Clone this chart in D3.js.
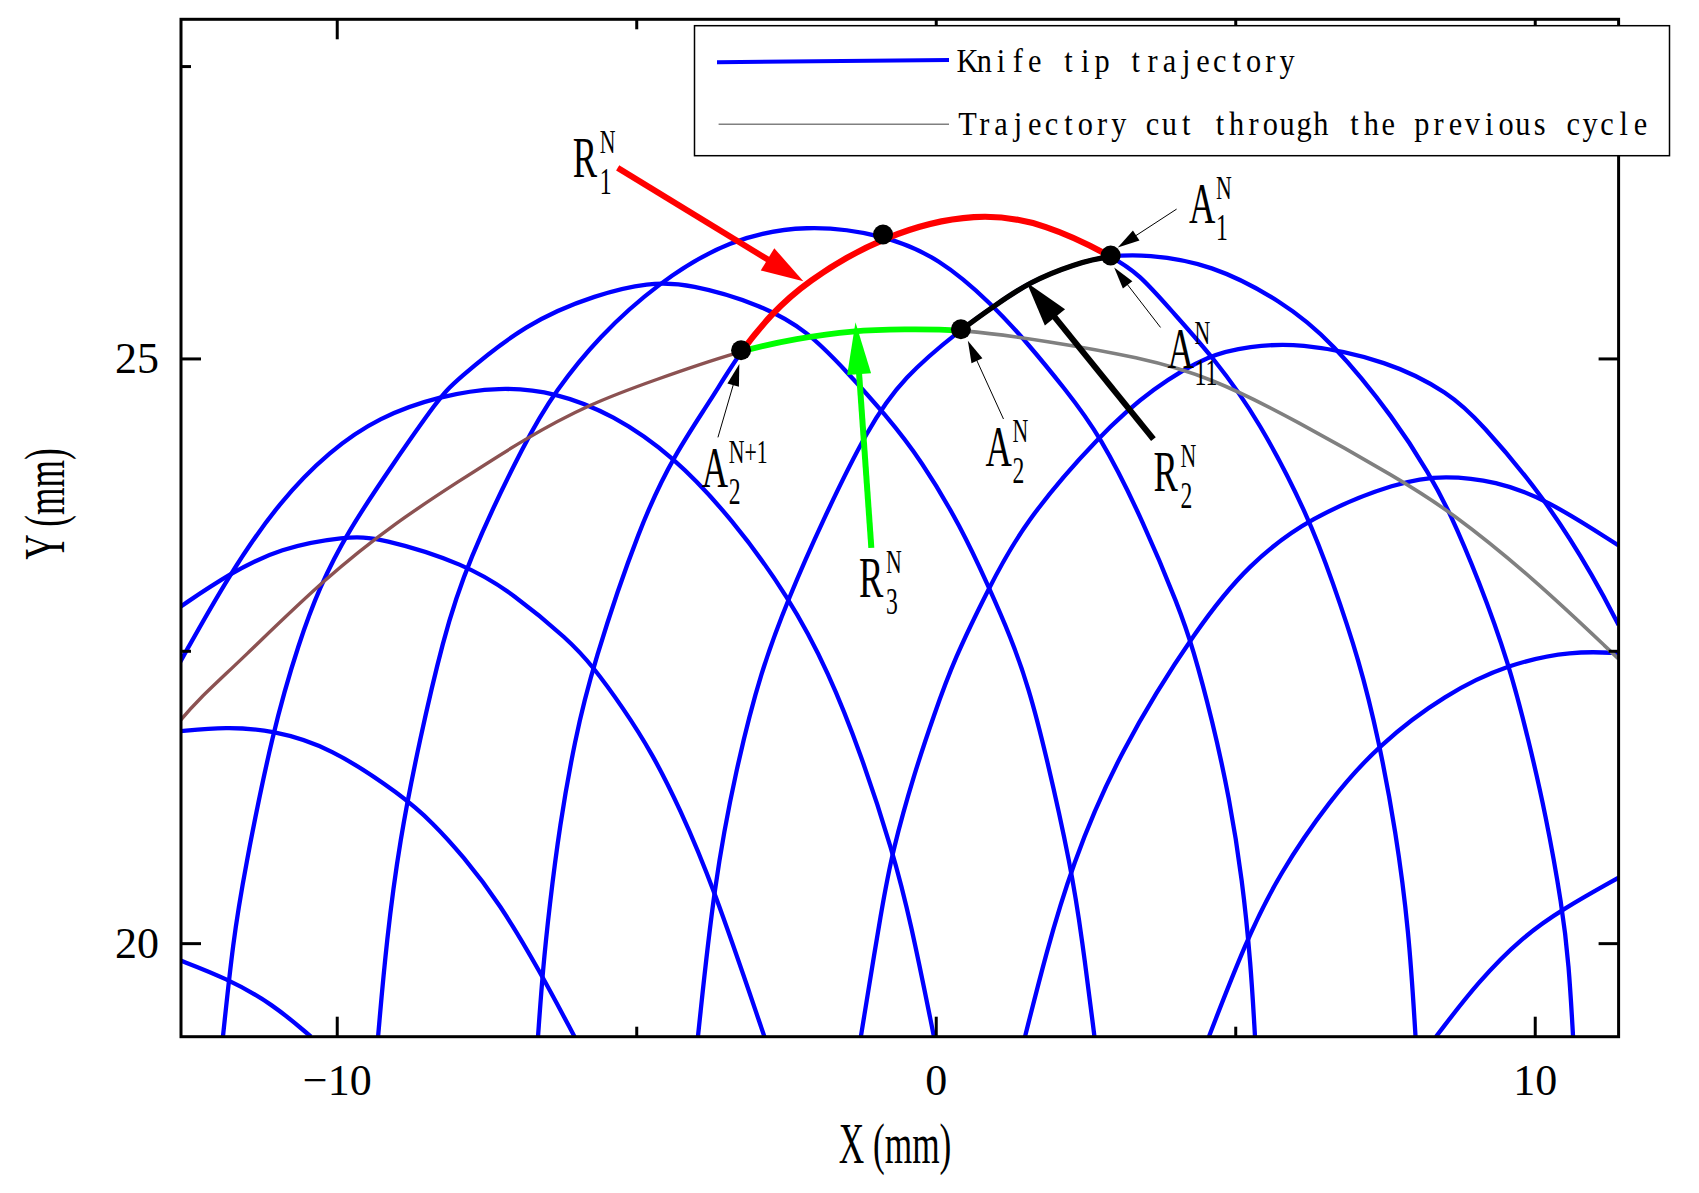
<!DOCTYPE html>
<html>
<head>
<meta charset="utf-8">
<script src="https://cdn.jsdelivr.net/npm/d3@7"></script>
<style>
  html, body { margin: 0; padding: 0; background: #fff; }
  svg { display: block; }
</style>
</head>
<body>
<svg id="chart" width="1699" height="1193"></svg>
<script>
// ══════════════════════════════════════════════════════════════════
// Data: [x (mm), y (mm)]
// ══════════════════════════════════════════════════════════════════
var tip0 = [[-12.65, 19.86], [-11.84, 19.70], [-11.07, 19.48], [-10.43, 19.20]];
var tip1 = [[-12.65, 21.81], [-11.84, 21.85], [-11.07, 21.82], [-10.12, 21.68], [-8.90, 21.26],
  [-8.40, 21.03], [-7.90, 20.75], [-7.28, 20.34], [-6.62, 19.77], [-6.03, 19.20]];
var tip2 = [[-12.63, 22.87], [-11.79, 23.16], [-10.95, 23.38], [-9.84, 23.48], [-9.29, 23.47],
  [-7.84, 23.24], [-7.06, 22.99], [-6.12, 22.59], [-5.73, 22.37], [-5.23, 22.02], [-4.73, 21.62],
  [-4.28, 21.16], [-3.73, 20.51], [-2.86, 19.20]];
var tip3 = [[-12.63, 22.39], [-11.79, 23.16], [-10.95, 23.78], [-10.12, 24.21], [-9.29, 24.50],
  [-8.29, 24.68], [-7.28, 24.76], [-6.34, 24.71], [-5.39, 24.52], [-4.39, 24.17], [-3.40, 23.63],
  [-2.45, 22.96], [-1.78, 22.31], [-1.25, 21.62], [-0.72, 20.79], [-0.42, 20.19], [-0.03, 19.20]];
var tip4 = [[-11.90, 19.20], [-11.73, 20.02], [-11.55, 20.59], [-11.07, 21.82], [-10.62, 22.59],
  [-10.29, 23.04], [-9.84, 23.50], [-9.06, 24.10], [-8.29, 24.66], [-8.06, 24.79], [-6.83, 25.31],
  [-5.64, 25.55], [-4.80, 25.65], [-4.11, 25.64], [-2.92, 25.46], [-2.15, 25.24], [-1.49, 24.89],
  [-0.84, 24.52], [-0.24, 24.13], [0.42, 23.56], [0.89, 23.04], [1.25, 22.62], [1.55, 22.19],
  [1.84, 21.62], [2.26, 20.65], [2.44, 20.05], [2.65, 19.20]];
var tip5 = [[-9.31, 19.20], [-9.17, 20.02], [-8.95, 20.88], [-8.62, 21.73], [-8.23, 22.59],
  [-7.84, 23.24], [-6.83, 24.32], [-6.35, 24.72], [-5.64, 25.18], [-4.63, 25.65], [-3.45, 26.02],
  [-2.15, 26.15], [-0.88, 26.06], [0.06, 25.86], [0.95, 25.46], [1.55, 25.12], [2.14, 24.75],
  [2.74, 24.35], [3.48, 23.59], [4.06, 22.87], [4.29, 22.53], [4.62, 21.90], [4.90, 21.25],
  [5.12, 20.54], [5.26, 19.82], [5.33, 19.20]];
var tip6 = [[-6.64, 19.20], [-6.56, 19.77], [-6.45, 20.31], [-6.28, 21.00], [-6.03, 21.73],
  [-5.73, 22.37], [-4.93, 23.59], [-4.36, 24.18], [-3.76, 24.64], [-3.25, 25.07], [-2.74, 25.38],
  [-2.21, 25.64], [-0.88, 26.06], [0.71, 26.26], [1.85, 26.15], [2.92, 25.88], [3.40, 25.72],
  [3.93, 25.41], [4.65, 25.00], [5.40, 24.47], [6.23, 23.64], [6.62, 23.10], [7.07, 22.42],
  [7.40, 21.73], [7.68, 20.96], [7.90, 20.11], [8.01, 19.20]];
var tip7 = [[-3.97, 19.20], [-3.70, 20.51], [-3.34, 21.48], [-2.92, 22.33], [-2.45, 22.96],
  [-1.91, 23.59], [-1.13, 24.41], [-0.54, 24.84], [0.42, 25.25], [1.01, 25.46], [1.55, 25.65],
  [2.32, 25.81], [2.92, 25.88], [3.51, 25.89], [4.59, 25.81], [5.78, 25.49], [6.61, 25.15],
  [7.68, 24.47], [8.24, 24.01], [8.57, 23.70], [9.07, 23.10], [9.57, 22.39], [9.90, 21.73],
  [10.18, 21.11], [10.46, 20.31], [10.57, 19.82], [10.64, 19.20]];
var tip8 = [[-1.25, 19.20], [-0.89, 20.34], [-0.72, 20.79], [-0.36, 21.45], [-0.03, 21.95],
  [0.30, 22.42], [0.89, 23.04], [1.46, 23.59], [2.74, 24.35], [3.63, 24.75], [4.59, 25.04],
  [5.23, 25.10], [6.02, 25.14], [7.57, 24.98], [8.58, 24.70], [9.07, 24.47], [10.18, 23.80],
  [11.02, 23.10], [11.40, 22.72]];
var tip9 = [[1.49, 19.20], [1.84, 19.91], [2.26, 20.65], [3.04, 21.62], [4.40, 22.73], [5.23, 23.24],
  [6.23, 23.64], [7.73, 23.95], [8.51, 24.00], [9.35, 23.95], [10.18, 23.80], [11.40, 23.40]];
var tip10 = [[4.56, 19.20], [5.18, 20.02], [5.73, 20.59], [6.57, 21.22], [7.40, 21.70], [8.51, 22.13],
  [9.57, 22.39], [10.63, 22.50], [11.40, 22.48]];
var tip11 = [[8.35, 19.20], [9.07, 19.68], [9.79, 20.05], [10.46, 20.29], [11.40, 20.56]];

var knifeTips = [tip0, tip1, tip2, tip3, tip4, tip5, tip6, tip7, tip8, tip9, tip10, tip11];

// surface left by the previous cycle
var prevCycle = [[-12.65, 21.88], [-12.34, 22.07], [-11.60, 22.42], [-10.18, 23.13], [-8.98, 23.61],
  [-8.02, 23.93], [-6.84, 24.32], [-5.78, 24.61], [-4.73, 24.81], [-3.25, 25.07], [-2.33, 25.17],
  [-1.37, 25.24], [-0.54, 25.25], [0.42, 25.25], [1.85, 25.15], [3.40, 25.01], [4.59, 24.84],
  [6.01, 24.47], [7.73, 23.97], [8.57, 23.70], [9.96, 23.13], [11.40, 22.43]];

// intersection points
var keyPoints = { A2N1: [-3.25, 25.07], M: [-0.88, 26.06], A2N: [0.42, 25.25], A1: [2.92, 25.88] };

// annotation arrows (tail, head)
var redArrow = [[-5.31, 26.63], [-2.21, 25.66]];
var greenArrow = [[-1.075, 23.38], [-1.34, 25.31]];
var blackArrow = [[3.634, 24.31], [1.518, 25.65]];
var leaders = [
  [[4.021, 26.277], [3.039, 25.949]],
  [[3.753, 25.265], [2.979, 25.778]],
  [[1.131, 24.482], [0.536, 25.151]],
  [[-3.636, 24.325], [-3.279, 24.952]]
];

// labels: letter, superscript, subscript, anchor
var labels = [
  { base: 'R', sup: 'N', sub: '1', at: [-6.06, 26.55] },
  { base: 'A', sup: 'N', sub: '1', at: [4.23, 26.16] },
  { base: 'A', sup: 'N', sub: '11', at: [3.87, 24.92] },
  { base: 'A', sup: 'N', sub: '2', at: [0.83, 24.08] },
  { base: 'A', sup: 'N+1', sub: '2', at: [-3.905, 23.90] },
  { base: 'R', sup: 'N', sub: '2', at: [3.634, 23.87] },
  { base: 'R', sup: 'N', sub: '3', at: [-1.283, 22.96] }
];

var xDomain = [-12.6, 11.4];
var yDomain = [19.2, 27.9];
var xTicks = [-10, 0, 10];
var xMinor = [-5, 5];
var yTicks = [20, 25];
var yMinor = [22.5, 27.5];
var legendLabels = ['Knife tip trajectory', 'Trajectory cut through the previous cycle'];

// ══════════════════════════════════════════════════════════════════
// Chart
// ══════════════════════════════════════════════════════════════════
var SERIF = "'Liberation Serif', 'Times New Roman', serif";
var plot = { left: 181, right: 1618.6, top: 19.3, bottom: 1036.7 };

var svg = d3.select('#chart');
svg.append('rect').attr('width', 1699).attr('height', 1193).attr('fill', '#fff');

var x = d3.scaleLinear().domain(xDomain).range([plot.left, plot.right]);
var y = d3.scaleLinear().domain(yDomain).range([plot.bottom, plot.top]);

// B-spline smooths out the reading error in the traced points
var line = d3.line()
  .x(function(d) { return x(d[0]); })
  .y(function(d) { return y(d[1]); })
  .curve(d3.curveBasis);

var defs = svg.append('defs');
defs.append('clipPath').attr('id', 'plot-clip').append('rect')
  .attr('x', plot.left).attr('y', plot.top)
  .attr('width', plot.right - plot.left).attr('height', plot.bottom - plot.top);

// clip a curve to an x-interval (each trajectory is single valued in x)
var clipCount = 0;
function xClip(x0, x1) {
  var id = 'xclip-' + (clipCount++);
  var a = Math.max(plot.left, x0 == null ? plot.left : x(x0));
  var b = Math.min(plot.right, x1 == null ? plot.right : x(x1));
  defs.append('clipPath').attr('id', id).append('rect')
    .attr('x', a).attr('y', plot.top).attr('width', b - a).attr('height', plot.bottom - plot.top);
  return 'url(#' + id + ')';
}

var g = svg.append('g').attr('clip-path', 'url(#plot-clip)');

g.selectAll('path.tip').data(knifeTips).join('path')
  .attr('class', 'tip')
  .attr('d', line)
  .attr('fill', 'none')
  .attr('stroke', '#0000ff')
  .attr('stroke-width', 4.3);

function segment(data, x0, x1, color, width) {
  g.append('g').attr('clip-path', xClip(x0, x1))
    .append('path').attr('d', line(data))
    .attr('fill', 'none').attr('stroke', color).attr('stroke-width', width);
}

segment(prevCycle, null, keyPoints.A2N1[0], '#8c5252', 3.4);
segment(prevCycle, keyPoints.A2N[0], null, '#808080', 3.6);
segment(prevCycle, keyPoints.A2N1[0], keyPoints.A2N[0], '#00ff00', 5.8);
segment(tip6, keyPoints.A2N1[0], keyPoints.A1[0], '#ff0000', 6.2);
segment(tip7, keyPoints.A2N[0], keyPoints.A1[0], '#000000', 5.2);

// arrows
function arrow(from, to, color, width, head, half) {
  var x1 = x(from[0]), y1 = y(from[1]), x2 = x(to[0]), y2 = y(to[1]);
  var dx = x2 - x1, dy = y2 - y1, len = Math.sqrt(dx * dx + dy * dy);
  var ux = dx / len, uy = dy / len;
  var bx = x2 - ux * head, by = y2 - uy * head;
  svg.append('line')
    .attr('x1', x1).attr('y1', y1).attr('x2', bx + ux * 2).attr('y2', by + uy * 2)
    .attr('stroke', color).attr('stroke-width', width);
  svg.append('path')
    .attr('d', 'M' + x2 + ',' + y2 +
      'L' + (bx - uy * half) + ',' + (by + ux * half) +
      'L' + (bx + uy * half) + ',' + (by - ux * half) + 'Z')
    .attr('fill', color);
}

arrow(redArrow[0], redArrow[1], '#ff0000', 6, 42, 13);
arrow(greenArrow[0], greenArrow[1], '#00ff00', 6, 52, 12);
arrow(blackArrow[0], blackArrow[1], '#000000', 6, 45, 13);
leaders.forEach(function(l) { arrow(l[0], l[1], '#000000', 1, 22, 6); });

svg.selectAll('circle.key').data(Object.values(keyPoints)).join('circle')
  .attr('class', 'key')
  .attr('cx', function(d) { return x(d[0]); })
  .attr('cy', function(d) { return y(d[1]); })
  .attr('r', 10)
  .attr('fill', '#000');

// ══════════════════════════════════════════════════════════════════
// Axes and frame
// ══════════════════════════════════════════════════════════════════
function styleAxis(sel) {
  sel.select('.domain').remove();
  sel.selectAll('.tick line').attr('stroke', '#000').attr('stroke-width', 3);
  sel.attr('font-family', SERIF).attr('font-size', 44);
  sel.selectAll('.tick text').attr('fill', '#000');
}

svg.append('g').attr('transform', 'translate(0,' + plot.bottom + ')')
  .call(d3.axisBottom(x).tickValues(xTicks).tickSize(-20).tickPadding(27)).call(styleAxis);
svg.append('g').attr('transform', 'translate(0,' + plot.bottom + ')')
  .call(d3.axisBottom(x).tickValues(xMinor).tickSize(-10).tickFormat('')).call(styleAxis);
svg.append('g').attr('transform', 'translate(0,' + plot.top + ')')
  .call(d3.axisTop(x).tickValues(xTicks).tickSize(-20).tickFormat('')).call(styleAxis);
svg.append('g').attr('transform', 'translate(0,' + plot.top + ')')
  .call(d3.axisTop(x).tickValues(xMinor).tickSize(-10).tickFormat('')).call(styleAxis);
svg.append('g').attr('transform', 'translate(' + plot.left + ',0)')
  .call(d3.axisLeft(y).tickValues(yTicks).tickSize(-20).tickPadding(22)).call(styleAxis);
svg.append('g').attr('transform', 'translate(' + plot.left + ',0)')
  .call(d3.axisLeft(y).tickValues(yMinor).tickSize(-10).tickFormat('')).call(styleAxis);
svg.append('g').attr('transform', 'translate(' + plot.right + ',0)')
  .call(d3.axisRight(y).tickValues(yTicks).tickSize(-20).tickFormat('')).call(styleAxis);
svg.append('g').attr('transform', 'translate(' + plot.right + ',0)')
  .call(d3.axisRight(y).tickValues(yMinor).tickSize(-10).tickFormat('')).call(styleAxis);

svg.append('rect')
  .attr('x', plot.left).attr('y', plot.top)
  .attr('width', plot.right - plot.left).attr('height', plot.bottom - plot.top)
  .attr('fill', 'none').attr('stroke', '#000').attr('stroke-width', 3);

svg.append('text')
  .attr('transform', 'translate(895,1163) scale(0.63,1)')
  .attr('text-anchor', 'middle').attr('font-family', SERIF).attr('font-size', 56)
  .text('X (mm)');
svg.append('text')
  .attr('transform', 'translate(64,504) rotate(-90) scale(0.63,1)')
  .attr('text-anchor', 'middle').attr('font-family', SERIF).attr('font-size', 56)
  .text('Y (mm)');

// ══════════════════════════════════════════════════════════════════
// Legend (fixed-pitch serif, one cell per character)
// ══════════════════════════════════════════════════════════════════
var CELL = 16.83, SQUEEZE = 0.92;
var lg = svg.append('g');
lg.append('rect').attr('x', 694.5).attr('y', 25.7).attr('width', 975).attr('height', 130)
  .attr('fill', '#fff').attr('stroke', '#000').attr('stroke-width', 1.5);
lg.append('line').attr('x1', 717).attr('y1', 62.3).attr('x2', 949).attr('y2', 60)
  .attr('stroke', '#0000ff').attr('stroke-width', 4);
lg.append('line').attr('x1', 718.6).attr('y1', 124.3).attr('x2', 949).attr('y2', 124.3)
  .attr('stroke', '#808080').attr('stroke-width', 1.5);
lg.selectAll('text').data(legendLabels).join('text')
  .attr('transform', function(d, i) { return 'translate(959,' + (71.5 + i * 63.5) + ') scale(' + SQUEEZE + ',1)'; })
  .attr('x', function(d) {
    return d.split('').map(function(c, k) { return ((k + 0.5) * CELL / SQUEEZE).toFixed(2); }).join(' ');
  })
  .attr('text-anchor', 'middle')
  .attr('font-family', SERIF).attr('font-size', 33).attr('fill', '#000')
  .text(function(d) { return d; });

// ══════════════════════════════════════════════════════════════════
// Point labels (letter with superscript and subscript)
// ══════════════════════════════════════════════════════════════════
var LS = 0.64;
labels.forEach(function(d) {
  var t = svg.append('text')
    .attr('transform', 'translate(' + x(d.at[0]) + ',' + y(d.at[1]) + ') scale(' + LS + ',1)')
    .attr('font-family', SERIF).attr('fill', '#000');
  t.append('tspan').attr('x', 0).attr('y', 0).attr('font-size', 57).text(d.base);
  t.append('tspan').attr('x', 27 / LS).attr('y', -24).attr('font-size', 34).text(d.sup);
  t.append('tspan').attr('x', 27 / LS).attr('y', 17).attr('font-size', 37).text(d.sub);
});
</script>
</body>
</html>
